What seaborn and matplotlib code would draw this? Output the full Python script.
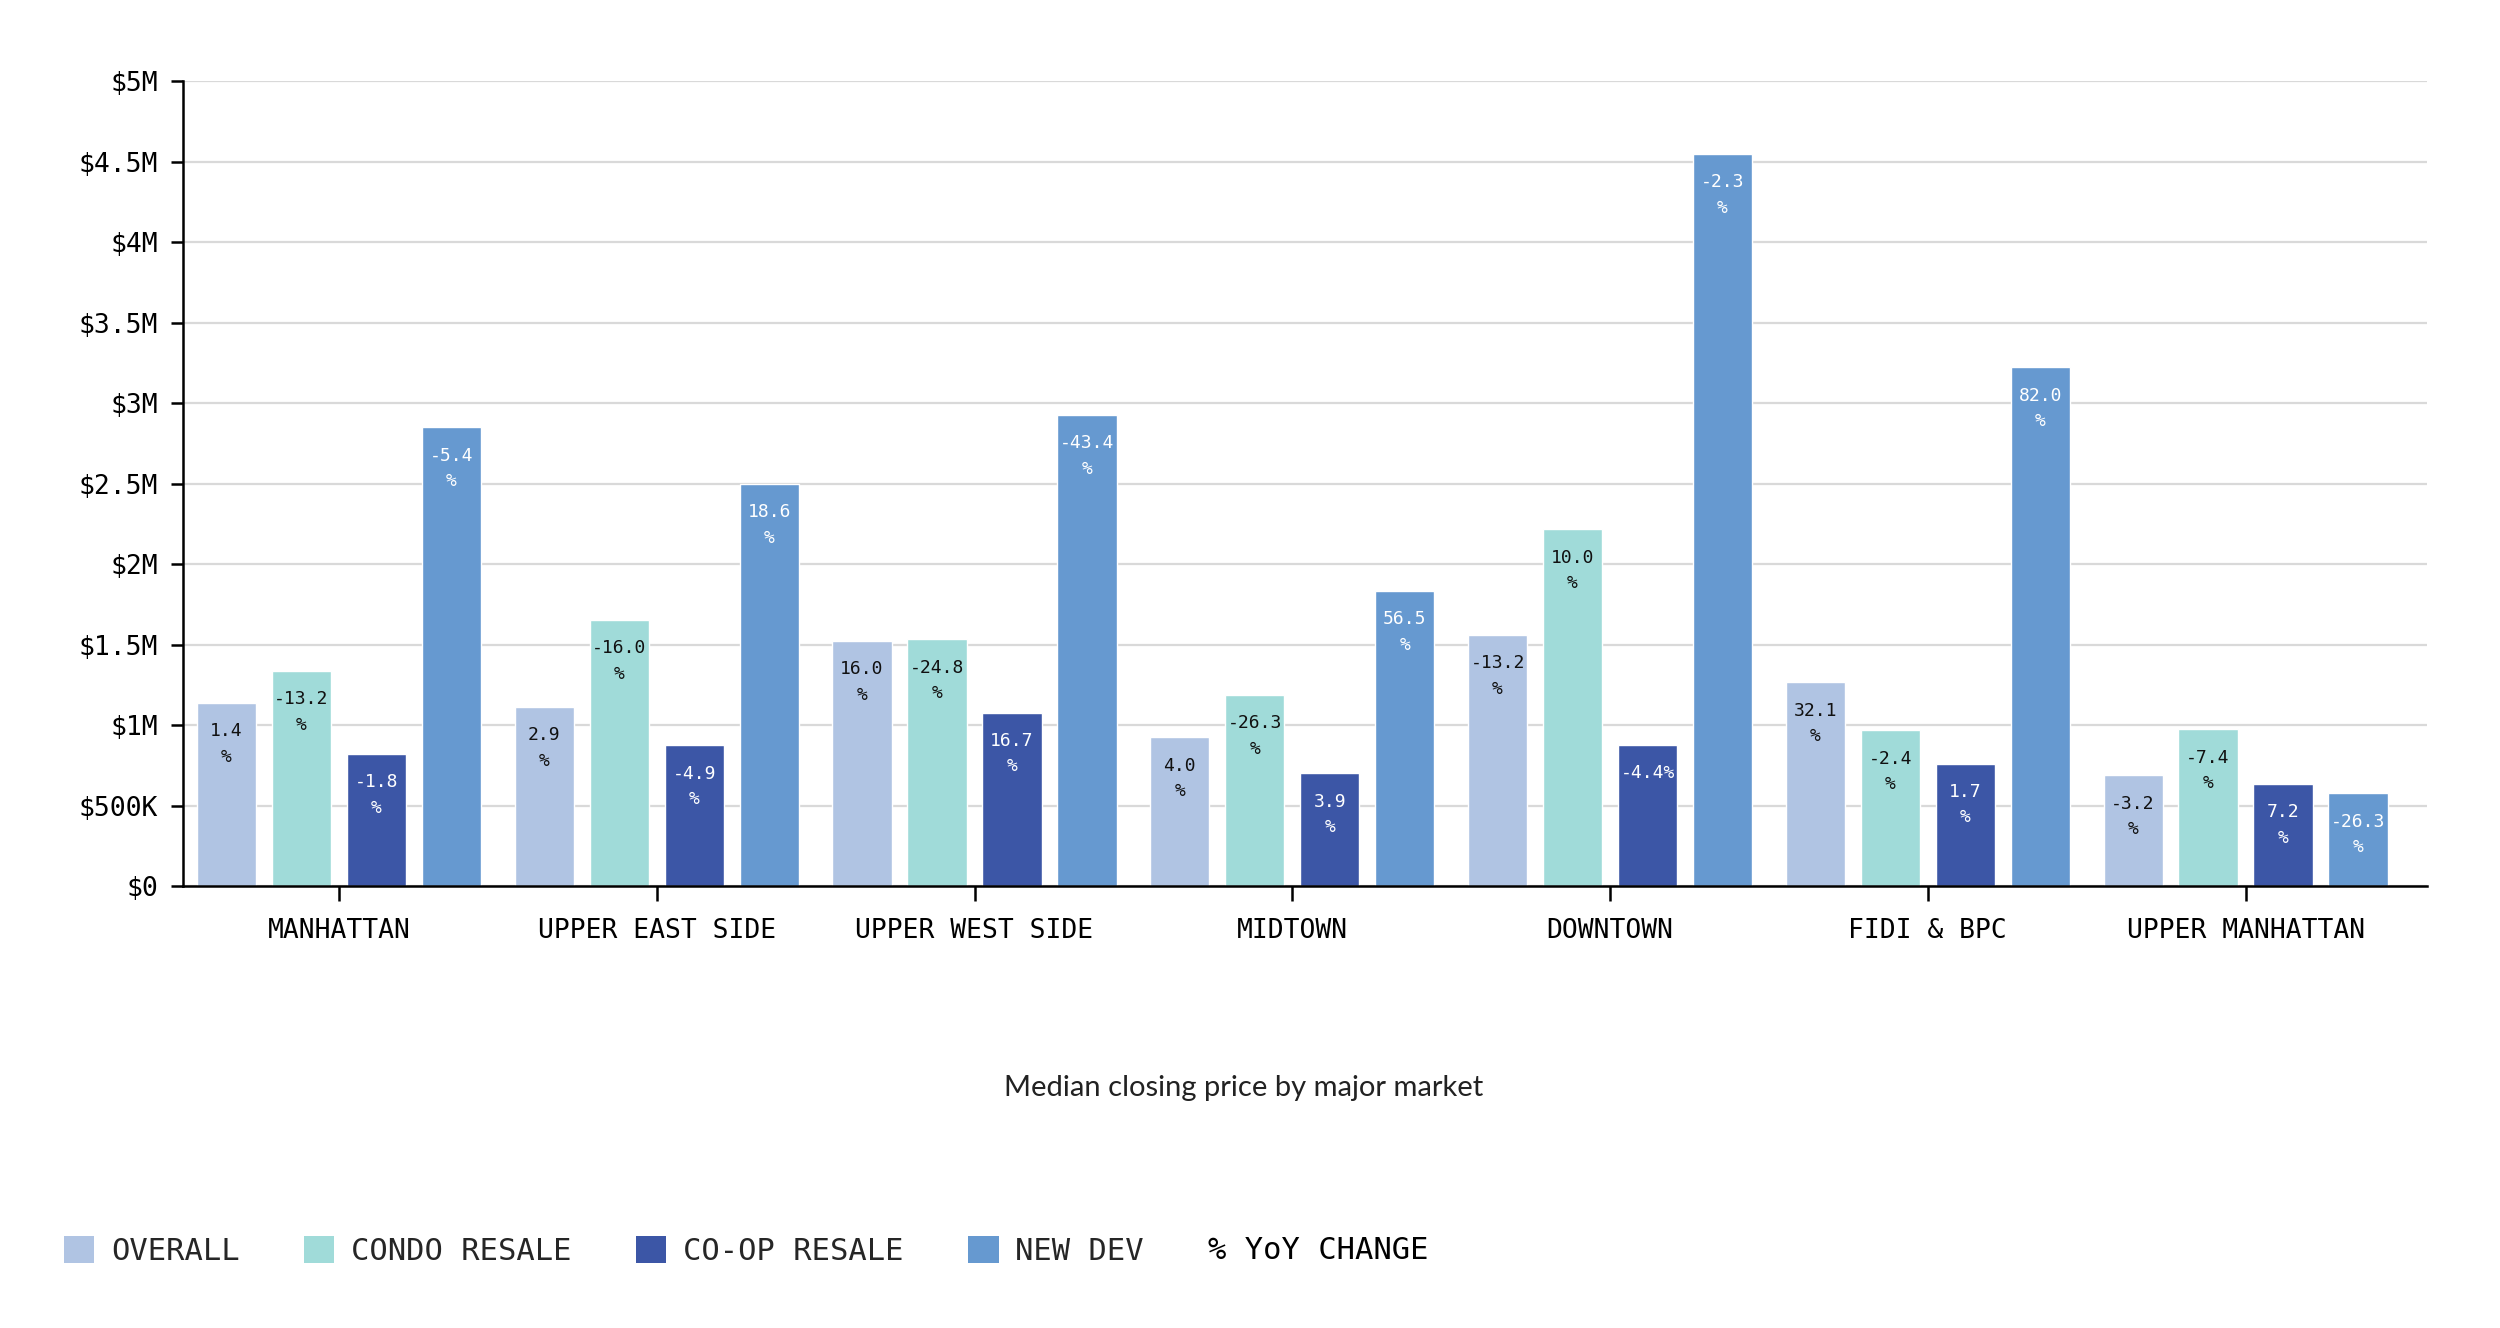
import numpy as np
import pandas as pd
import matplotlib.pyplot as plt
import seaborn as sns
from matplotlib.patches import Patch
from matplotlib.ticker import FuncFormatter, MultipleLocator


markets = ["MANHATTAN", "UPPER EAST SIDE", "UPPER WEST SIDE", "MIDTOWN",
           "DOWNTOWN", "FIDI & BPC", "UPPER MANHATTAN"]
segments = ["OVERALL", "CONDO RESALE", "CO-OP RESALE", "NEW DEV"]

# median closing price, $
price_overall = [1140000, 1115000, 1525000, 927000, 1563000, 1267000, 690000]
price_condo   = [1340000, 1655000, 1535000, 1190000, 2217000, 970000, 975000]
price_coop    = [823000, 878000, 1080000, 703000, 880000, 763000, 636000]
price_newdev  = [2850000, 2500000, 2930000, 1837000, 4550000, 3225000, 579000]

# % YoY change
yoy_overall = [1.4, 2.9, 16.0, 4.0, -13.2, 32.1, -3.2]
yoy_condo   = [-13.2, -16.0, -24.8, -26.3, 10.0, -2.4, -7.4]
yoy_coop    = [-1.8, -4.9, 16.7, 3.9, -4.4, 1.7, 7.2]
yoy_newdev  = [-5.4, 18.6, -43.4, 56.5, -2.3, 82.0, -26.3]

# labels printed on one line in the original
one_line = {("DOWNTOWN", "CO-OP RESALE")}

colors = ["#b0c4e3", "#a0dbd9", "#3c56a6", "#6699d0"]
label_colors = ["#111111", "#111111", "white", "white"]

prices = [price_overall, price_condo, price_coop, price_newdev]
yoys = [yoy_overall, yoy_condo, yoy_coop, yoy_newdev]

rows = []
for seg, pr, yy in zip(segments, prices, yoys):
    for m, p, y in zip(markets, pr, yy):
        rows.append({"market": m, "segment": seg, "price": p, "yoy": y})
df = pd.DataFrame(rows)

sns.set_theme(style="white")
plt.rcParams["font.family"] = ["DejaVu Sans Mono"]

fig = plt.figure(figsize=(25, 13.28), dpi=100)
ax = fig.add_axes([0.0733, 0.3325, 0.8974, 0.6063])

sns.barplot(data=df, x="market", y="price", hue="segment",
            order=markets, hue_order=segments, palette=colors,
            width=0.944, gap=0.21, saturation=1, legend=False, ax=ax)

ax.set_ylim(0, 5000000)
ax.set_xlim(-0.49, 6.57)
ax.yaxis.set_major_locator(MultipleLocator(500000))


def money(v, _):
    if v == 0:
        return "$0"
    if v < 1e6:
        return f"${v / 1e3:.0f}K"
    return f"${v / 1e6:g}M"


ax.yaxis.set_major_formatter(FuncFormatter(money))
ax.grid(axis="y", color="#d9d9d9", linewidth=1.6)
ax.set_axisbelow(True)
for s in ["top", "right"]:
    ax.spines[s].set_visible(False)
for s in ["left", "bottom"]:
    ax.spines[s].set_color("black")
    ax.spines[s].set_linewidth(1.8)

ax.tick_params(axis="y", left=True, length=9, width=1.8, pad=9,
               labelsize=19, colors="black")
ax.tick_params(axis="x", bottom=True, length=11, width=1.8, pad=12,
               labelsize=19, colors="black")
ax.set_xlabel("")
ax.set_ylabel("")

# YoY labels inside the bars
for container, seg, lc in zip(ax.containers, segments, label_colors):
    for bar, m in zip(container, markets):
        y = df[(df.market == m) & (df.segment == seg)]["yoy"].iloc[0]
        x = bar.get_x() + bar.get_width() / 2
        h = bar.get_height()
        if (m, seg) in one_line:
            lines = [f"{y:.1f}%"]
        else:
            lines = [f"{y:.1f}", "%"]
        for i, t in enumerate(lines):
            ax.annotate(t, xy=(x, h), xytext=(0, -20.5 - 18.3 * i),
                        textcoords="offset points", ha="center", va="center",
                        fontsize=13, color=lc)

fig.text(0.4975, 0.181, "Median closing price by major market",
         ha="center", va="center", fontsize=21, family="Lato", color="#222222")

handles = [Patch(facecolor=c, edgecolor="none", label=s)
           for c, s in zip(colors, segments)]
fig.legend(handles=handles, loc="center left", bbox_to_anchor=(0.0255, 0.058),
           ncol=4, frameon=False, fontsize=22, handlelength=1.0,
           handleheight=1.0, handletextpad=0.55, columnspacing=2.1,
           borderpad=0, borderaxespad=0)
fig.text(0.483, 0.058, "% YoY CHANGE", ha="left", va="center",
         fontsize=22, color="black")

fig.savefig("out.png", dpi=100)
